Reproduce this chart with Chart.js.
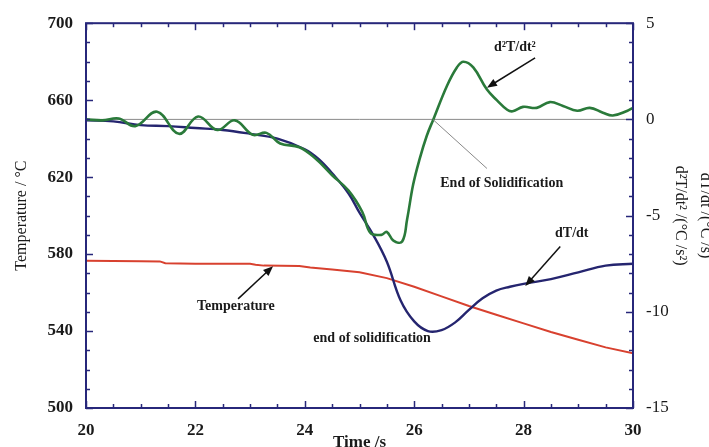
<!DOCTYPE html>
<html>
<head>
<meta charset="utf-8">
<script src="https://cdn.jsdelivr.net/npm/chart.js@4.4.1/dist/chart.umd.min.js"></script>
<style>
  html, body { margin: 0; padding: 0; background: #fff; }
  #wrap { width: 709px; height: 447px; }
</style>
</head>
<body>
<div id="wrap"><canvas id="grafico" width="709" height="447"></canvas></div>
<script>
// Valores (tempo em s)
const tempTime   = [20, 21, 21.35, 21.45, 22, 23, 23.1, 23.25, 23.9, 24.1, 24.5, 25, 25.5, 26, 26.5, 27, 27.5, 28, 28.5, 29, 29.5, 30];
const tempValues = [576.5, 576.3, 576.2, 575.2, 575, 575, 574.5, 574, 573.8, 573, 572, 570.5, 567.5, 563, 558, 553, 548.5, 544, 539.5, 535.5, 531.5, 528.5];

const rateTime   = [20, 20.5, 21, 21.5, 22, 22.5, 23, 23.5, 24, 24.25, 24.5, 24.8, 25, 25.25, 25.5, 25.75, 26, 26.25, 26.5, 26.75, 27, 27.25, 27.5, 27.75, 28, 28.5, 29, 29.5, 30];
const rateValues = [-0.05, -0.1, -0.3, -0.35, -0.45, -0.55, -0.75, -1.0, -1.55, -2.05, -2.8, -3.85, -4.85, -6.0, -7.4, -9.4, -10.5, -11.0, -10.95, -10.55, -9.9, -9.3, -8.9, -8.7, -8.55, -8.3, -7.95, -7.6, -7.5];

const accTime   = [20, 20.3, 20.6, 20.9, 21.3, 21.7, 22.05, 22.4, 22.72, 23.05, 23.3, 23.55, 23.9, 24.2, 24.5, 24.8, 25.05, 25.2, 25.4, 25.5, 25.62, 25.78, 25.87, 25.98, 26.1, 26.23, 26.35, 26.6, 26.78, 26.9, 27.08, 27.33, 27.51, 27.7, 27.8, 27.99, 28.24, 28.48, 28.72, 28.98, 29.21, 29.45, 29.63, 29.9, 30];
const accValues = [0, -0.05, 0.05, -0.35, 0.4, -0.75, 0.15, -0.55, -0.05, -0.8, -0.7, -1.25, -1.45, -2.05, -2.9, -3.7, -4.8, -5.9, -6.0, -5.85, -6.3, -6.35, -5.2, -3.4, -2.05, -0.85, 0, 1.75, 2.7, 3.0, 2.7, 1.55, 1.0, 0.5, 0.42, 0.65, 0.6, 0.9, 0.7, 0.45, 0.6, 0.35, 0.2, 0.45, 0.6];

const zeroTime   = [20, 30];
const zeroValues = [0, 0];

const xTicks  = [20, 22, 24, 26, 28, 30];
const yTicks  = [500, 540, 580, 620, 660, 700];
const y1Ticks = [-15, -10, -5, 0, 5];

// Anotações (posições em unidades dos eixos)
const notes = [
  { text: 'd²T/dt²', axis: 'y1', x: 27.84, y: 3.75, arrow: [28.21, 3.2, 27.33, 1.65] },
  { text: 'End of Solidification', axis: 'y1', x: 27.6, y: -3.35, leader: [27.33, -2.55, 26.34, 0] },
  { text: 'dT/dt', axis: 'y1', x: 28.88, y: -5.93, arrow: [28.67, -6.6, 28.03, -8.66] },
  { text: 'Temperature', axis: 'y', x: 22.74, y: 552.6, arrow: [22.78, 556.7, 23.42, 573.7] },
  { text: 'end of solidification', axis: 'y', x: 25.23, y: 536.1 }
];

const serif = '"Liberation Serif", "Times New Roman", serif';
const frameColor = '#27277a';
const pts = (xs, ys) => xs.map((x, i) => ({ x: x, y: ys[i] }));

// moldura e marcas internas dos eixos
const frameTicks = {
  id: 'frameTicks',
  afterDraw(chart) {
    const { ctx, chartArea: a, scales } = chart;
    ctx.save();
    ctx.strokeStyle = frameColor;
    ctx.lineWidth = 1.5;
    const line = (x1, y1, x2, y2) => { ctx.beginPath(); ctx.moveTo(x1, y1); ctx.lineTo(x2, y2); ctx.stroke(); };

    const sx = scales.x;
    for (let v = sx.min; v <= sx.max + 1e-6; v += 0.5) {
      const len = xTicks.includes(+v.toFixed(2)) ? 7 : 4;
      const px = Math.round(sx.getPixelForValue(v)) + 0.5;
      line(px, a.bottom, px, a.bottom - len);
      line(px, a.top, px, a.top + len);
    }
    const sy = scales.y;
    for (let v = sy.min; v <= sy.max + 1e-6; v += 10) {
      const len = yTicks.includes(v) ? 7 : 4;
      const py = Math.round(sy.getPixelForValue(v)) + 0.5;
      line(a.left, py, a.left + len, py);
    }
    const sy1 = scales.y1;
    for (let v = sy1.min; v <= sy1.max + 1e-6; v += 1) {
      const len = y1Ticks.includes(v) ? 7 : 4;
      const py = Math.round(sy1.getPixelForValue(v)) + 0.5;
      line(a.right, py, a.right - len, py);
    }
    ctx.lineWidth = 2;
    ctx.strokeRect(a.left, a.top, a.right - a.left, a.bottom - a.top);
    ctx.restore();
  }
};

// textos e setas
const notesPlugin = {
  id: 'notesPlugin',
  afterDraw(chart) {
    const { ctx, scales } = chart;
    ctx.save();
    notes.forEach(n => {
      const sy = scales[n.axis];
      const X = v => scales.x.getPixelForValue(v);
      const Y = v => sy.getPixelForValue(v);
      if (n.leader) {
        ctx.strokeStyle = '#888';
        ctx.lineWidth = 1;
        ctx.beginPath();
        ctx.moveTo(X(n.leader[0]), Y(n.leader[1]));
        ctx.lineTo(X(n.leader[2]), Y(n.leader[3]));
        ctx.stroke();
      }
      if (n.arrow) {
        const x1 = X(n.arrow[0]), y1 = Y(n.arrow[1]), x2 = X(n.arrow[2]), y2 = Y(n.arrow[3]);
        const ang = Math.atan2(y2 - y1, x2 - x1);
        ctx.strokeStyle = '#111';
        ctx.fillStyle = '#111';
        ctx.lineWidth = 1.5;
        ctx.beginPath();
        ctx.moveTo(x1, y1);
        ctx.lineTo(x2 - 6 * Math.cos(ang), y2 - 6 * Math.sin(ang));
        ctx.stroke();
        ctx.beginPath();
        ctx.moveTo(x2, y2);
        ctx.lineTo(x2 - 10 * Math.cos(ang) + 4 * Math.sin(ang), y2 - 10 * Math.sin(ang) - 4 * Math.cos(ang));
        ctx.lineTo(x2 - 10 * Math.cos(ang) - 4 * Math.sin(ang), y2 - 10 * Math.sin(ang) + 4 * Math.cos(ang));
        ctx.closePath();
        ctx.fill();
      }
      ctx.fillStyle = '#1a1a1a';
      ctx.font = 'bold 14px ' + serif;
      ctx.textAlign = 'center';
      ctx.textBaseline = 'middle';
      ctx.fillText(n.text, X(n.x), Y(n.y));
    });
    ctx.restore();
  }
};

const ctx = document.getElementById('grafico').getContext('2d');
const grafico = new Chart(ctx, {
  type: 'line',
  data: {
    datasets: [
      { label: 'd2T/dt2', yAxisID: 'y1', data: pts(accTime, accValues), borderColor: '#2a7a3a', borderWidth: 2.6, tension: 0.4, pointRadius: 0 },
      { label: 'dT/dt', yAxisID: 'y1', data: pts(rateTime, rateValues), borderColor: '#25256f', borderWidth: 2.4, tension: 0.4, pointRadius: 0 },
      { label: 'Temperature', yAxisID: 'y', data: pts(tempTime, tempValues), borderColor: '#d8412f', borderWidth: 2, tension: 0, pointRadius: 0 },
      { label: 'zero', yAxisID: 'y1', data: pts(zeroTime, zeroValues), borderColor: '#8a8a8a', borderWidth: 1, pointRadius: 0 }
    ]
  },
  options: {
    responsive: false,
    animation: false,
    layout: { padding: { top: 20, left: 0, right: 0, bottom: 0 } },
    plugins: { legend: { display: false }, tooltip: { enabled: false } },
    scales: {
      x: {
        type: 'linear', min: 20, max: 30,
        afterBuildTicks: s => { s.ticks = xTicks.map(v => ({ value: v })); },
        afterFit: s => { s.height = 39; },
        grid: { display: false, drawTicks: false },
        border: { display: false },
        ticks: { padding: 12, color: '#1a1a1a', font: { family: serif, size: 17, weight: 'bold' } },
        title: { display: true, text: 'Time /s', color: '#1a1a1a', font: { family: serif, size: 17, weight: 'bold', lineHeight: 1 }, padding: { top: 0, bottom: -4 } }
      },
      y: {
        type: 'linear', position: 'left', min: 500, max: 700,
        afterBuildTicks: s => { s.ticks = yTicks.map(v => ({ value: v })); },
        afterFit: s => { s.width = 86; },
        grid: { display: false, drawTicks: false },
        border: { display: false },
        ticks: { padding: 13, color: '#1a1a1a', font: { family: serif, size: 17, weight: 'bold' } },
        title: { display: true, text: 'Temperature / °C', color: '#1a1a1a', font: { family: serif, size: 16, lineHeight: 1 }, padding: { top: 14, bottom: 0 } }
      },
      y1: {
        type: 'linear', position: 'right', min: -15, max: 5,
        afterBuildTicks: s => { s.ticks = y1Ticks.map(v => ({ value: v })); },
        afterFit: s => { s.width = 76; },
        grid: { display: false, drawTicks: false },
        border: { display: false },
        ticks: { padding: 13, color: '#1a1a1a', font: { family: serif, size: 17 } },
        title: { display: true, text: ['dT/dt /(°C /s)', 'd²T/dt² /(°C /s²)'], color: '#1a1a1a', font: { family: serif, size: 16, lineHeight: '25px' }, padding: { top: -9, bottom: 0 } }
      }
    }
  },
  plugins: [frameTicks, notesPlugin]
});
</script>
</body>
</html>
